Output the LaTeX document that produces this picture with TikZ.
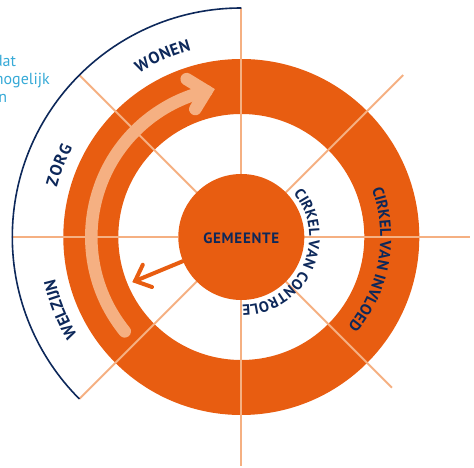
\documentclass[tikz,border=0pt]{standalone}
\usepackage{fontspec}
\setmainfont{PT Sans}
\newfontfamily\trackfont{PT Sans}[LetterSpace=5]
\usetikzlibrary{decorations.text}
\definecolor{orng}{HTML}{E85D11}
\definecolor{peach}{HTML}{F5B082}
\definecolor{navy}{HTML}{0D285A}
\definecolor{skyb}{HTML}{37AAD7}
\newcommand{\lblf}{\bfseries\fontsize{16.5}{18}\selectfont}
\newcommand{\lblmid}{\bfseries\fontsize{15.6}{17}\selectfont}
\newcommand{\lblsmall}{\bfseries\fontsize{15}{17}\selectfont}
\tikzset{
  spoke/.style={draw=peach, line width=2},
  curvtext/.style={decorate, decoration={text along path, text align={fit to path}, text color=navy, text={|\lblf|#1}}},
  curvsmall/.style={decorate, decoration={text along path, text align={fit to path}, text color=navy, text={|\lblsmall|#1}}},
  curvcentre/.style={decorate, decoration={text along path, text align=center, text color=navy, text={|\lblmid|#1}}},
  bigarrow/.style={draw=peach, line width=12.5, line cap=round, line join=miter},
  smallarrow/.style={draw=orng, line width=4, line cap=round, line join=miter},
  sidetext/.style={anchor=base east, inner sep=0, text=skyb, font=\fontsize{16}{18}\selectfont},
}
\begin{document}
\begin{tikzpicture}[x=1pt,y=1pt]
\useasboundingbox (-241.3,-231) rectangle (232.7,237);
\clip (-241.3,-231) rectangle (232.7,237);
% orange ring
\fill[orng, even odd rule] (0,0) circle[radius=178] (0,0) circle[radius=123];
% spokes
\foreach \a in {0,45,90,135,180,225,270}
  \draw[spoke] (\a:63) -- (\a:229);
\draw[spoke] (315:63) -- (315:213);
% outer arc
\draw[navy, line width=1.6] (90:229) arc[start angle=90, end angle=225, radius=229];
% big arrow
\draw[bigarrow] (219:150) arc[start angle=219, end angle=103.5, radius=150] coordinate (bv);
\draw[bigarrow] ([shift={(148.5:23)}]bv) -- (bv) -- ([shift={(238.5:21)}]bv);
% centre
\node[circle, fill=orng, minimum size=126, inner sep=0] (gem) at (0,0) {};
\node[text=navy, inner sep=0] (gemt) at (0,-1.7) {\trackfont\bfseries\fontsize{15}{17}\selectfont GEMEENTE};
% small arrow
\coordinate (sv) at (202.5:115);
\draw[smallarrow] (gem) -- (sv);
\draw[smallarrow] ([shift={(64.5:18)}]sv) -- (sv) -- ([shift={(-19.5:18)}]sv);
% curved labels
\path[curvsmall={CIRKEL VAN CONTROLE}] (40:68) arc[start angle=40, end angle=-87, radius=68];
\path[curvcentre={CIRKEL VAN INVLOED}] (40:139) arc[start angle=40, end angle=-60, radius=139];
\path[curvtext={WONEN}] (122:193) arc[start angle=122, end angle=105, radius=193];
\path[curvtext={ZORG}] (165:191) arc[start angle=165, end angle=152, radius=191];
\path[curvtext={WELZIJN}] (211:191) arc[start angle=211, end angle=193, radius=191];
% side text (cut by the edge)
\node[sidetext] (t1) at (-225,170.3) {dat};
\node[sidetext] (t2) at (-191.3,152) {mogelijk};
\node[sidetext] (t3) at (-234,134.7) {n};
\end{tikzpicture}
\end{document}
